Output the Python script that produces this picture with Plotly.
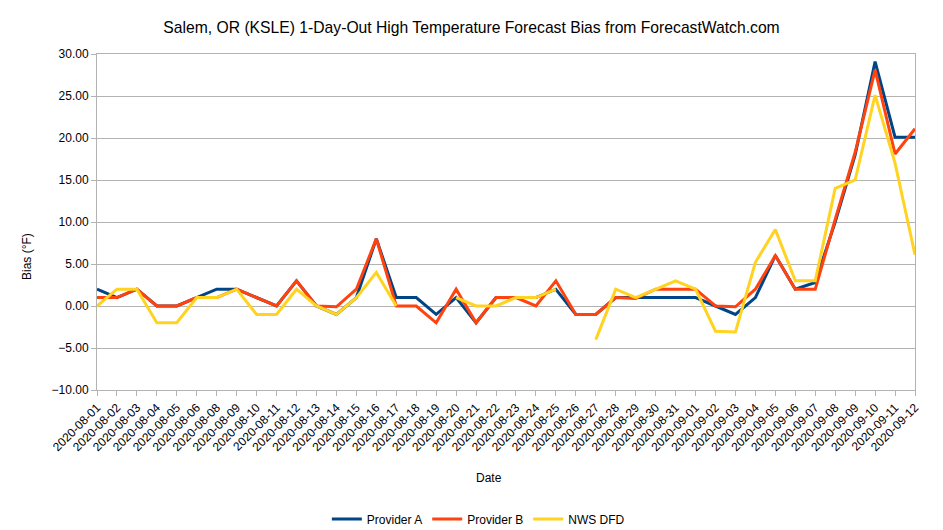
import plotly.graph_objects as go

dates = ["2020-08-01", "2020-08-02", "2020-08-03", "2020-08-04", "2020-08-05", "2020-08-06",
         "2020-08-08", "2020-08-09", "2020-08-10", "2020-08-11", "2020-08-12", "2020-08-13",
         "2020-08-14", "2020-08-15", "2020-08-16", "2020-08-17", "2020-08-18", "2020-08-19",
         "2020-08-20", "2020-08-21", "2020-08-22", "2020-08-23", "2020-08-24", "2020-08-25",
         "2020-08-26", "2020-08-27", "2020-08-28", "2020-08-29", "2020-08-30", "2020-08-31",
         "2020-09-01", "2020-09-02", "2020-09-03", "2020-09-04", "2020-09-05", "2020-09-06",
         "2020-09-07", "2020-09-08", "2020-09-09", "2020-09-10", "2020-09-11", "2020-09-12"]

provider_a = [2, 1, 2, 0, 0, 1,
              2, 2, 1, 0, 3, 0,
              -1, 1, 8, 1, 1, -1,
              1, -2, 1, 1, 1, 2,
              -1, -1, 1, 1, 1, 1,
              1, 0, -1, 1, 6, 2,
              2.8, 10, 18, 29.1, 20.1, 20.1]

provider_b = [1, 1, 2, 0, 0, 1,
              1, 2, 1, 0, 3, 0,
              -0.1, 2, 8, 0, 0, -2,
              2, -2, 1, 1, 0, 3,
              -1, -1, 1, 0.9, 2, 2,
              2, 0, -0.1, 2, 6, 2,
              2, 10.3, 18.3, 28.1, 18.1, 21.1]

nws_dfd = [0, 2, 2, -2, -2, 1,
           1, 2, -1, -1, 2, 0,
           -1, 1, 4, 0, None, None,
           1, 0, 0, 1, 1, 2,
           None, -4, 2, 1, 2, 3,
           2, -3, -3.1, 5.2, 9.1, 3,
           3, 14, 15, 25.1, 17, 6.1]

y_ticks = [-10, -5, 0, 5, 10, 15, 20, 25, 30]

font_family = "Liberation Sans, Arial, sans-serif"

W, H = 935, 522  # page body has an 8px margin in the 943x530 window

fig = go.Figure()
for name, vals, color in [("Provider A", provider_a, "#004586"),
                          ("Provider B", provider_b, "#ff420e"),
                          ("NWS DFD", nws_dfd, "#ffd320")]:
    fig.add_trace(go.Scatter(x=dates, y=vals, name=name, mode="lines",
                             line=dict(color=color, width=3), connectgaps=False))

fig.update_layout(
    width=W, height=H,
    paper_bgcolor="white", plot_bgcolor="white",
    margin=dict(l=89, r=28, t=46, b=140, autoexpand=False),
    font=dict(family=font_family, size=12, color="#000000"),
    title=dict(text="Salem, OR (KSLE) 1-Day-Out High Temperature Forecast Bias from ForecastWatch.com",
               x=(471.5 - 8) / W, xanchor="center", y=1 - 20 / H, yanchor="middle", yref="container",
               font=dict(size=15.7, color="#000000")),
    showlegend=True,
    legend=dict(orientation="h", x=0.281, xanchor="left", y=-0.384, yanchor="middle",
                font=dict(size=12), traceorder="normal"),
    annotations=[
        dict(text="Date", xref="paper", yref="paper", x=(489 - 97) / 818, y=(390 - 478) / 336,
             xanchor="center", yanchor="middle", showarrow=False, font=dict(size=12)),
        dict(text="Bias (°F)", xref="paper", yref="paper", x=(27 - 97) / 818, y=(390 - 257) / 336,
             xanchor="center", yanchor="middle", showarrow=False, textangle=-90, font=dict(size=12)),
    ],
)

fig.update_xaxes(
    type="category", categoryorder="array", categoryarray=dates,
    range=[0, len(dates) - 1], automargin=False,
    tickangle=-45, tickfont=dict(size=12, color="#000000"),
    showline=True, linecolor="#b3b3b3", linewidth=1, mirror=True,
    ticks="outside", ticklen=5, tickcolor="#b3b3b3",
    showgrid=False, zeroline=False,
)

fig.update_yaxes(
    range=[-10, 30], tickvals=y_ticks, tickformat=".2f", automargin=False,
    tickfont=dict(size=12, color="#000000"),
    showline=True, linecolor="#b3b3b3", linewidth=1, mirror=True,
    ticks="outside", ticklen=5, tickcolor="#b3b3b3",
    showgrid=True, gridcolor="#b3b3b3", gridwidth=1, zeroline=False,
)

fig.write_html("out.html")
